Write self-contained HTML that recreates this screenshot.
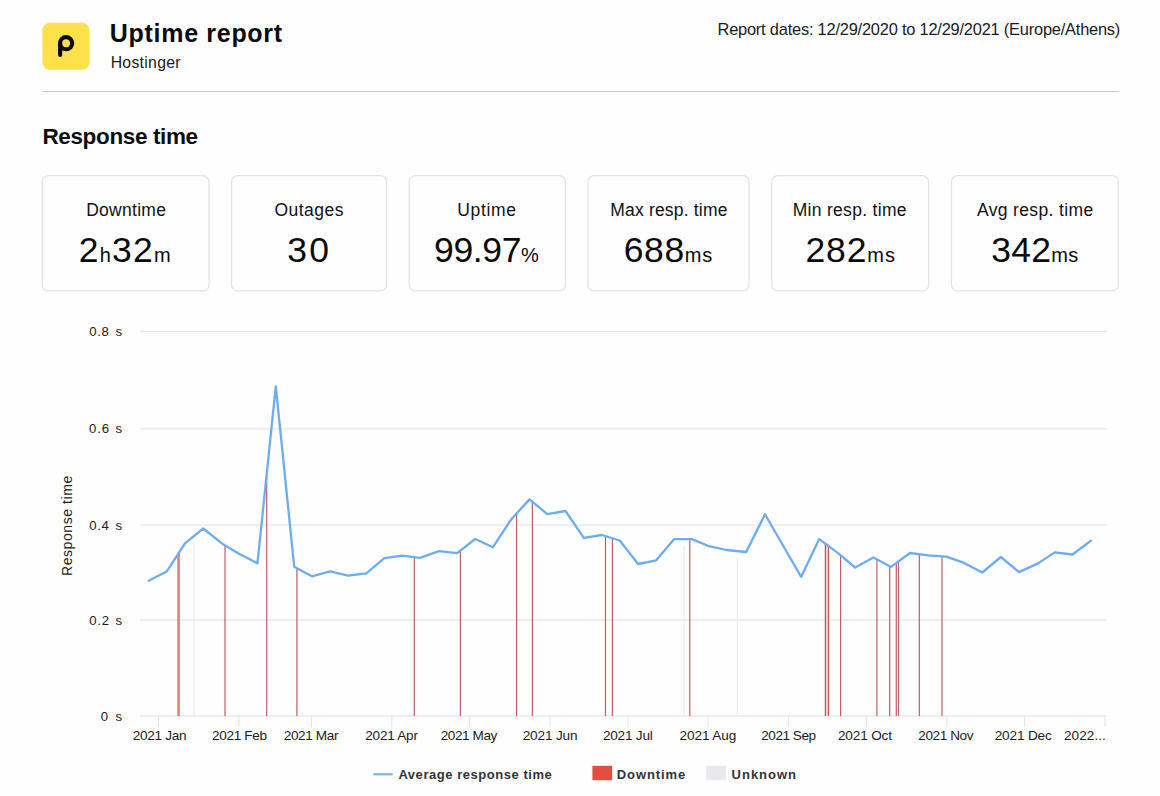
<!DOCTYPE html><html><head><meta charset="utf-8"><style>html,body{margin:0;padding:0;background:#fefefe;width:1160px;height:796px;overflow:hidden}svg{display:block}</style></head><body><svg width="1160" height="796" viewBox="0 0 1160 796">
<rect width="1160" height="796" fill="#fefefe"/>
<rect x="42.5" y="22.8" width="47" height="47" rx="7.5" fill="#fee14a"/>
<circle cx="66.1" cy="43.2" r="6.05" fill="none" stroke="#0a0a0a" stroke-width="4.2"/>
<line x1="60.1" y1="43.5" x2="60.1" y2="55" stroke="#0a0a0a" stroke-width="4.1" stroke-linecap="round"/>
<rect x="42" y="91" width="1077" height="1" fill="#c9c8cd"/>
<text id="title" x="109.82" y="41.9" font-family="Liberation Sans, sans-serif" font-size="25" font-weight="700" fill="#0c0c0e" textLength="172.26" lengthAdjust="spacing" >Uptime report</text>
<text id="host" x="110.63" y="67.6" font-family="Liberation Sans, sans-serif" font-size="15.8" font-weight="400" fill="#1a1a1c" textLength="69.92" lengthAdjust="spacing" >Hostinger</text>
<text id="dates" x="717.50" y="34.9" font-family="Liberation Sans, sans-serif" font-size="16.4" font-weight="400" fill="#1a1a1c" textLength="402.83" lengthAdjust="spacing" >Report dates: 12/29/2020 to 12/29/2021 (Europe/Athens)</text>
<text id="resp" x="42.46" y="144.3" font-family="Liberation Sans, sans-serif" font-size="22.5" font-weight="700" fill="#0c0c0e" textLength="155.65" lengthAdjust="spacing" >Response time</text>
<rect x="42.2" y="175.7" width="166.8" height="115.2" rx="6" fill="#fefefe" stroke="#e2e1e6" stroke-width="1.2"/>
<text id="lab0" x="86.16" y="215.6" font-family="Liberation Sans, sans-serif" font-size="17.5" font-weight="400" fill="#111113" textLength="79.74" lengthAdjust="spacing" >Downtime</text>
<text id="val0" x="78.84" y="261.8" font-family="Liberation Sans, sans-serif" font-size="35.5" font-weight="400" fill="#0a0a0c" textLength="91.74" lengthAdjust="spacing" ><tspan font-size="35.5">2</tspan><tspan font-size="20">h</tspan><tspan font-size="35.5">32</tspan><tspan font-size="20">m</tspan></text>
<rect x="231.6" y="175.7" width="154.9" height="115.2" rx="6" fill="#fefefe" stroke="#e2e1e6" stroke-width="1.2"/>
<text id="lab1" x="274.49" y="215.6" font-family="Liberation Sans, sans-serif" font-size="17.5" font-weight="400" fill="#111113" textLength="68.93" lengthAdjust="spacing" >Outages</text>
<text id="val1" x="287.16" y="261.8" font-family="Liberation Sans, sans-serif" font-size="35.5" font-weight="400" fill="#0a0a0c" textLength="41.84" lengthAdjust="spacing" ><tspan font-size="35.5">30</tspan></text>
<rect x="409.2" y="175.7" width="156.2" height="115.2" rx="6" fill="#fefefe" stroke="#e2e1e6" stroke-width="1.2"/>
<text id="lab2" x="457.35" y="215.6" font-family="Liberation Sans, sans-serif" font-size="17.5" font-weight="400" fill="#111113" textLength="58.60" lengthAdjust="spacing" >Uptime</text>
<text id="val2" x="434.09" y="261.8" font-family="Liberation Sans, sans-serif" font-size="35.5" font-weight="400" fill="#0a0a0c" textLength="104.73" lengthAdjust="spacing" ><tspan font-size="35.5">99.97</tspan><tspan font-size="20">%</tspan></text>
<rect x="588.0" y="175.7" width="161.0" height="115.2" rx="6" fill="#fefefe" stroke="#e2e1e6" stroke-width="1.2"/>
<text id="lab3" x="610.31" y="215.6" font-family="Liberation Sans, sans-serif" font-size="17.5" font-weight="400" fill="#111113" textLength="117.09" lengthAdjust="spacing" >Max resp. time</text>
<text id="val3" x="623.63" y="261.8" font-family="Liberation Sans, sans-serif" font-size="35.5" font-weight="400" fill="#0a0a0c" textLength="88.53" lengthAdjust="spacing" ><tspan font-size="35.5">688</tspan><tspan font-size="20">ms</tspan></text>
<rect x="771.8" y="175.7" width="156.80000000000007" height="115.2" rx="6" fill="#fefefe" stroke="#e2e1e6" stroke-width="1.2"/>
<text id="lab4" x="792.65" y="215.6" font-family="Liberation Sans, sans-serif" font-size="17.5" font-weight="400" fill="#111113" textLength="113.90" lengthAdjust="spacing" >Min resp. time</text>
<text id="val4" x="805.46" y="261.8" font-family="Liberation Sans, sans-serif" font-size="35.5" font-weight="400" fill="#0a0a0c" textLength="89.46" lengthAdjust="spacing" ><tspan font-size="35.5">282</tspan><tspan font-size="20">ms</tspan></text>
<rect x="951.5" y="175.7" width="166.79999999999995" height="115.2" rx="6" fill="#fefefe" stroke="#e2e1e6" stroke-width="1.2"/>
<text id="lab5" x="976.96" y="215.6" font-family="Liberation Sans, sans-serif" font-size="17.5" font-weight="400" fill="#111113" textLength="116.15" lengthAdjust="spacing" >Avg resp. time</text>
<text id="val5" x="991.14" y="261.8" font-family="Liberation Sans, sans-serif" font-size="35.5" font-weight="400" fill="#0a0a0c" textLength="87.18" lengthAdjust="spacing" ><tspan font-size="35.5">342</tspan><tspan font-size="20">ms</tspan></text>
<rect x="140" y="330.9" width="967" height="1.2" fill="#e4e3e8"/>
<text id="yl0" x="89.37" y="336.1" font-family="Liberation Sans, sans-serif" font-size="13.2" font-weight="400" fill="#1c1c20" textLength="19.53" lengthAdjust="spacing" >0.8</text>
<text id="ys0" x="115.62" y="336.1" font-family="Liberation Sans, sans-serif" font-size="13.2" font-weight="400" fill="#1c1c20" textLength="6.89" lengthAdjust="spacing" >s</text>
<rect x="140" y="428.2" width="967" height="1.2" fill="#e4e3e8"/>
<text id="yl1" x="89.06" y="433.40000000000003" font-family="Liberation Sans, sans-serif" font-size="13.2" font-weight="400" fill="#1c1c20" textLength="20.07" lengthAdjust="spacing" >0.6</text>
<text id="ys1" x="115.62" y="433.40000000000003" font-family="Liberation Sans, sans-serif" font-size="13.2" font-weight="400" fill="#1c1c20" textLength="6.89" lengthAdjust="spacing" >s</text>
<rect x="140" y="524.4" width="967" height="1.2" fill="#e4e3e8"/>
<text id="yl2" x="89.37" y="529.6" font-family="Liberation Sans, sans-serif" font-size="13.2" font-weight="400" fill="#1c1c20" textLength="19.36" lengthAdjust="spacing" >0.4</text>
<text id="ys2" x="115.62" y="529.6" font-family="Liberation Sans, sans-serif" font-size="13.2" font-weight="400" fill="#1c1c20" textLength="6.89" lengthAdjust="spacing" >s</text>
<rect x="140" y="619.4" width="967" height="1.2" fill="#e4e3e8"/>
<text id="yl3" x="89.37" y="624.6" font-family="Liberation Sans, sans-serif" font-size="13.2" font-weight="400" fill="#1c1c20" textLength="19.66" lengthAdjust="spacing" >0.2</text>
<text id="ys3" x="115.62" y="624.6" font-family="Liberation Sans, sans-serif" font-size="13.2" font-weight="400" fill="#1c1c20" textLength="6.89" lengthAdjust="spacing" >s</text>
<rect x="140" y="715.4" width="967" height="1.2" fill="#e4e3e8"/>
<text id="yl4" x="100.76" y="720.6" font-family="Liberation Sans, sans-serif" font-size="13.2" font-weight="400" fill="#1c1c20" textLength="31.97" lengthAdjust="spacing" >0</text>
<text id="ys4" x="115.62" y="720.6" font-family="Liberation Sans, sans-serif" font-size="13.2" font-weight="400" fill="#1c1c20" textLength="6.89" lengthAdjust="spacing" >s</text>
<rect x="193.3" y="542.1" width="1.2" height="173.9" fill="#ecebf0"/>
<rect x="683.6" y="545.1" width="1.2" height="170.9" fill="#ecebf0"/>
<rect x="736.8" y="557.1" width="1.2" height="158.9" fill="#ecebf0"/>
<rect x="177.4" y="554.3" width="1.2" height="161.7" fill="#dd5f5f"/>
<rect x="178.5" y="552.6" width="1.2" height="163.4" fill="#dd5f5f"/>
<rect x="224.4" y="545.4" width="1.2" height="170.6" fill="#bf5f66"/>
<rect x="266.1" y="475.2" width="1.2" height="240.8" fill="#bf5f66"/>
<rect x="296.3" y="568.1" width="1.2" height="147.9" fill="#bf5f66"/>
<rect x="413.7" y="557.1" width="1.2" height="158.9" fill="#bf5f66"/>
<rect x="459.8" y="550.7" width="1.2" height="165.3" fill="#bf5f66"/>
<rect x="516.0" y="513.6" width="1.2" height="202.4" fill="#bf5f66"/>
<rect x="531.8" y="501.7" width="1.2" height="214.3" fill="#bf5f66"/>
<rect x="604.9" y="536.1" width="1.2" height="179.9" fill="#bf5f66"/>
<rect x="611.8" y="538.2" width="1.2" height="177.8" fill="#bf5f66"/>
<rect x="689.2" y="539.1" width="1.2" height="176.9" fill="#bf5f66"/>
<rect x="840.0" y="555.2" width="1.2" height="160.8" fill="#bf5f66"/>
<rect x="876.3" y="559.4" width="1.2" height="156.6" fill="#bf5f66"/>
<rect x="889.1" y="566.2" width="1.2" height="149.8" fill="#bf5f66"/>
<rect x="895.7" y="563.1" width="1.2" height="152.9" fill="#bf5f66"/>
<rect x="897.9" y="561.5" width="1.2" height="154.5" fill="#bf5f66"/>
<rect x="918.7" y="554.2" width="1.2" height="161.8" fill="#bf5f66"/>
<rect x="941.4" y="556.4" width="1.2" height="159.6" fill="#bf5f66"/>
<rect x="824.8" y="543.7" width="4.300000000000023" height="172.3" fill="#f6cfc8"/>
<rect x="824.8" y="543.7" width="1.2" height="172.3" fill="#c9574f"/>
<rect x="827.9" y="546.0" width="1.2" height="170.0" fill="#c9574f"/>
<rect x="158.0" y="716" width="1" height="11" fill="#e4e3e8"/>
<text id="mJan" x="132.70" y="739.6" font-family="Liberation Sans, sans-serif" font-size="13.6" font-weight="400" fill="#1c1c20" textLength="53.94" lengthAdjust="spacing" >2021 Jan</text>
<rect x="238.38299999999998" y="716" width="1" height="11" fill="#e4e3e8"/>
<text id="mFeb" x="211.88" y="739.6" font-family="Liberation Sans, sans-serif" font-size="13.6" font-weight="400" fill="#1c1c20" textLength="55.27" lengthAdjust="spacing" >2021 Feb</text>
<rect x="310.98699999999997" y="716" width="1" height="11" fill="#e4e3e8"/>
<text id="mMar" x="283.71" y="739.6" font-family="Liberation Sans, sans-serif" font-size="13.6" font-weight="400" fill="#1c1c20" textLength="54.79" lengthAdjust="spacing" >2021 Mar</text>
<rect x="391.37" y="716" width="1" height="11" fill="#e4e3e8"/>
<text id="mApr" x="365.31" y="739.6" font-family="Liberation Sans, sans-serif" font-size="13.6" font-weight="400" fill="#1c1c20" textLength="52.63" lengthAdjust="spacing" >2021 Apr</text>
<rect x="469.15999999999997" y="716" width="1" height="11" fill="#e4e3e8"/>
<text id="mMay" x="440.71" y="739.6" font-family="Liberation Sans, sans-serif" font-size="13.6" font-weight="400" fill="#1c1c20" textLength="56.64" lengthAdjust="spacing" >2021 May</text>
<rect x="549.543" y="716" width="1" height="11" fill="#e4e3e8"/>
<text id="mJun" x="522.70" y="739.6" font-family="Liberation Sans, sans-serif" font-size="13.6" font-weight="400" fill="#1c1c20" textLength="54.83" lengthAdjust="spacing" >2021 Jun</text>
<rect x="627.333" y="716" width="1" height="11" fill="#e4e3e8"/>
<text id="mJul" x="602.88" y="739.6" font-family="Liberation Sans, sans-serif" font-size="13.6" font-weight="400" fill="#1c1c20" textLength="49.97" lengthAdjust="spacing" >2021 Jul</text>
<rect x="707.716" y="716" width="1" height="11" fill="#e4e3e8"/>
<text id="mAug" x="679.49" y="739.6" font-family="Liberation Sans, sans-serif" font-size="13.6" font-weight="400" fill="#1c1c20" textLength="56.82" lengthAdjust="spacing" >2021 Aug</text>
<rect x="788.099" y="716" width="1" height="11" fill="#e4e3e8"/>
<text id="mSep" x="761.28" y="739.6" font-family="Liberation Sans, sans-serif" font-size="13.6" font-weight="400" fill="#1c1c20" textLength="54.75" lengthAdjust="spacing" >2021 Sep</text>
<rect x="865.889" y="716" width="1" height="11" fill="#e4e3e8"/>
<text id="mOct" x="837.92" y="739.6" font-family="Liberation Sans, sans-serif" font-size="13.6" font-weight="400" fill="#1c1c20" textLength="54.07" lengthAdjust="spacing" >2021 Oct</text>
<rect x="946.2719999999999" y="716" width="1" height="11" fill="#e4e3e8"/>
<text id="mNov" x="918.28" y="739.6" font-family="Liberation Sans, sans-serif" font-size="13.6" font-weight="400" fill="#1c1c20" textLength="55.24" lengthAdjust="spacing" >2021 Nov</text>
<rect x="1024.062" y="716" width="1" height="11" fill="#e4e3e8"/>
<text id="mDec" x="994.71" y="739.6" font-family="Liberation Sans, sans-serif" font-size="13.6" font-weight="400" fill="#1c1c20" textLength="57.06" lengthAdjust="spacing" >2021 Dec</text>
<rect x="1104.445" y="716" width="1" height="11" fill="#e4e3e8"/>
<text id="mxxx" x="1063.88" y="739.6" font-family="Liberation Sans, sans-serif" font-size="13.6" font-weight="400" fill="#1c1c20" textLength="42.02" lengthAdjust="spacing" >2022...</text>
<path d="M148.8,580.7 L167.0,571.2 L185.0,543.3 L203.2,528.5 L223.5,544.6 L239.4,554.0 L257.5,563.2 L275.8,386.3 L294.2,566.7 L311.9,576.3 L330.1,571.4 L348.2,575.7 L366.3,573.3 L384.4,558.1 L402.5,555.7 L420.0,557.8 L439.0,551.2 L457.1,553.2 L475.2,539.0 L493.0,547.2 L511.1,519.5 L529.5,499.4 L547.3,514.1 L565.5,511.0 L583.8,537.8 L601.9,535.0 L619.7,540.5 L638.1,564.0 L656.2,560.3 L674.2,539.1 L692.0,539.1 L707.8,545.8 L726.5,550.0 L746.2,552.0 L765.0,514.3 L783.0,545.5 L801.2,576.8 L819.2,539.1 L837.4,552.6 L855.2,567.5 L873.4,557.6 L891.0,566.9 L910.0,553.0 L928.0,555.3 L946.1,556.7 L963.5,562.7 L982.3,572.5 L1000.8,557.0 L1019.0,572.1 L1038.0,563.4 L1054.8,552.4 L1072.5,554.5 L1091.0,540.7" fill="none" stroke="#6eacf2" stroke-width="2.3" stroke-linejoin="round" stroke-linecap="round"/>
<text transform="translate(72.3,525.6) rotate(-90)" font-family="Liberation Sans, sans-serif" font-size="14" letter-spacing="0.58" text-anchor="middle" fill="#1e1e22">Response time</text>
<rect x="373.4" y="773.2" width="19.3" height="2.2" fill="#7cb5ec"/>
<rect x="592.4" y="765.8" width="19.7" height="14.4" fill="#e24f3d"/>
<rect x="706.2" y="765.8" width="19.7" height="14.4" fill="#e9e8ed"/>
<text id="leg1" x="398.42" y="779.2" font-family="Liberation Sans, sans-serif" font-size="13" font-weight="700" fill="#333336" textLength="153.33" lengthAdjust="spacing" >Average response time</text>
<text id="leg2" x="616.76" y="779.2" font-family="Liberation Sans, sans-serif" font-size="13" font-weight="700" fill="#333336" textLength="68.53" lengthAdjust="spacing" >Downtime</text>
<text id="leg3" x="731.62" y="779.2" font-family="Liberation Sans, sans-serif" font-size="13" font-weight="700" fill="#333336" textLength="64.36" lengthAdjust="spacing" >Unknown</text>
</svg></body></html>
